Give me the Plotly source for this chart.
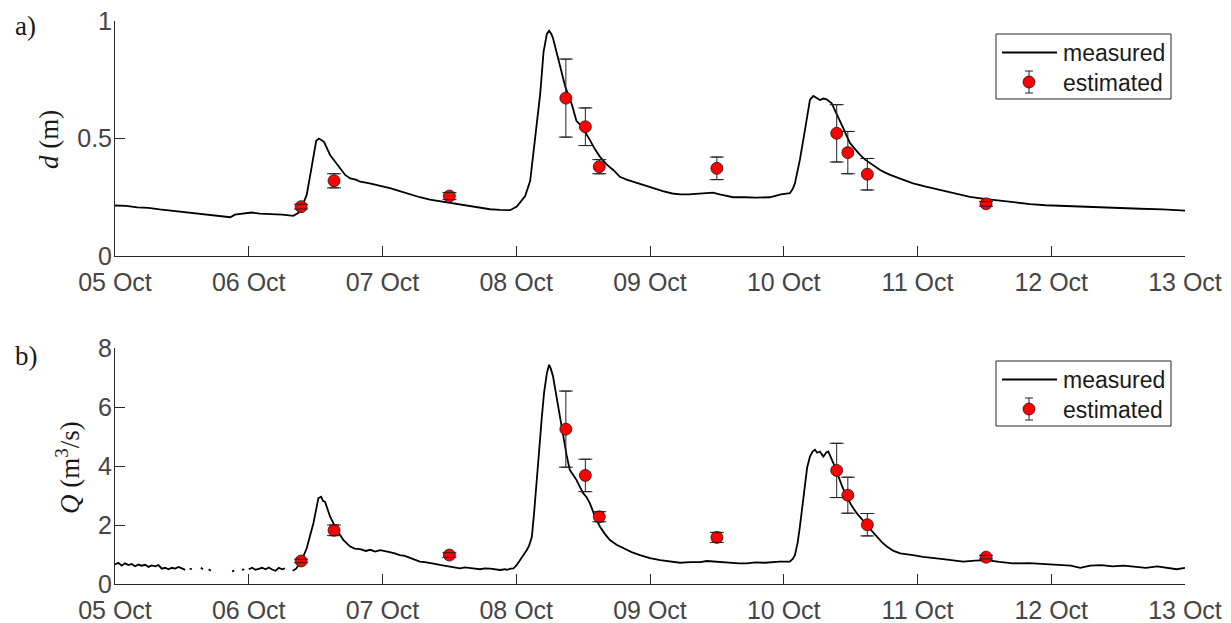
import pandas as pd
import plotly.graph_objects as go

# ---------------------------------------------------------------------------
# Data: hours after 05 Oct 00:00
# ---------------------------------------------------------------------------
START = pd.Timestamp("2023-10-05")

# measured water depth d (m)
d_hours = [0, 2, 4, 6, 8, 10, 12, 14, 16, 18, 19.5, 20.7, 21.5, 23, 24.5, 26, 28, 30, 32,
           33, 33.8, 34.4, 35.3, 36.1, 36.6, 37.1, 37.5, 38.6, 39.5, 40.4, 41.3, 42.2, 43.2,
           44.0, 45.5, 47.6, 49.5, 51.1, 53, 54.7, 56.5, 58.3, 60, 61.9, 63.7, 65.5, 67.3,
           69.1, 70.9, 72.1, 73.0, 73.6, 74.5, 75.1, 75.7, 76.3, 76.9, 77.5, 77.9, 78.3, 78.6,
           79.3, 79.9, 80.8, 82.0, 82.8, 83.4, 84.3, 85.2, 86.1, 87.0, 88.2, 89.4, 90.6, 91.8,
           93.0, 94.2, 95.5, 97, 98.3, 100, 101.4, 103, 105, 106.5, 107.3, 108.5, 110, 110.9,
           113, 115, 117.5, 119.5, 121.1, 121.6, 122.0, 122.4, 122.9, 123.8, 124.7, 125.3,
           126.0, 126.5, 127.1, 127.7, 128.6, 129.5, 130.1, 130.7, 131.3, 131.9, 132.8, 133.7,
           134.6, 135.5, 136.4, 137.3, 138.2, 139.1, 141, 143.2, 145.5, 148, 150.5, 153.4,
           156, 158.8, 161.5, 164.2, 167, 170.1, 172.6, 176, 180, 184, 188, 192]
d_measured = [0.215, 0.213, 0.207, 0.205, 0.198, 0.193, 0.190, 0.182, 0.178, 0.172, 0.170,
              0.165, 0.176, 0.182, 0.185, 0.180, 0.179, 0.176, 0.171,
              0.185, 0.225, 0.26, 0.38, 0.49, 0.50, 0.493, 0.486, 0.43, 0.40, 0.37, 0.345,
              0.33, 0.325, 0.316, 0.31, 0.298, 0.288, 0.276, 0.262, 0.250, 0.240, 0.233,
              0.226, 0.218, 0.211, 0.204, 0.199, 0.196, 0.195, 0.210, 0.235, 0.255, 0.32,
              0.45, 0.557, 0.69, 0.869, 0.945, 0.958, 0.945, 0.926, 0.86, 0.813, 0.72,
              0.643, 0.575, 0.560, 0.53, 0.494, 0.455, 0.423, 0.39, 0.366, 0.337, 0.325,
              0.316, 0.305, 0.295, 0.285, 0.276, 0.266, 0.262, 0.262, 0.266, 0.268, 0.27,
              0.262, 0.255, 0.25, 0.25, 0.248, 0.25, 0.262, 0.267, 0.285, 0.309, 0.35,
              0.41, 0.536, 0.664, 0.681, 0.672, 0.664, 0.670, 0.667, 0.650, 0.607, 0.575,
              0.543, 0.51, 0.48, 0.455, 0.43, 0.41, 0.394, 0.38, 0.366, 0.355, 0.345,
              0.328, 0.309, 0.295, 0.281, 0.268, 0.252, 0.243, 0.235, 0.228, 0.221, 0.216,
              0.213, 0.210, 0.206, 0.203, 0.201, 0.198, 0.193]

# measured discharge Q (m3/s); None marks missing records
q_hours = [0, 0.6, 1.2, 1.8, 2.4, 3.0, 3.6, 4.2, 4.8, 5.4, 6.0, 6.6, 7.2, 7.8, 8.4, 9.0,
           9.6, 10.2, 10.8, 11.4, 12.0, 12.6, 13.0, 13.4, 13.8, 14.2, 15.4, 15.8, 16.2,
           16.8, 17.2, 17.6, 21.0, 21.4, 21.8, 22.8, 23.2, 23.6, 24.0, 24.6, 25.2, 25.8,
           26.4, 27.0, 27.6, 28.2, 28.8, 29.4, 30.0, 30.5, 30.9, 31.9, 32.5, 33.4, 34.4,
           35.6, 36.5, 37.0, 37.3, 37.7, 38.6, 39.8, 41.0, 42.2, 43.0, 44.0, 45.0, 45.8,
           46.7, 47.6, 48.5, 49.3, 50.2, 51.1, 52.0, 52.9, 53.8, 54.7, 55.6, 56.5, 57.4,
           58.3, 59.2, 60.1, 61.0, 61.9, 62.8, 63.7, 64.6, 65.5, 66.4, 67.3, 68.2, 69.1,
           70.0, 70.3, 71.0, 71.5, 72.0, 72.7, 73.3, 73.9, 74.3, 74.8, 75.2, 75.7, 76.1,
           76.6, 77.0, 77.5, 77.9, 78.2, 78.6, 79.0, 79.5, 80.0, 80.4, 81.0, 81.6, 82.2,
           82.8, 83.4, 84.0, 84.6, 85.2, 86.1, 87.0, 87.9, 88.8, 90.0, 91.2, 92.7, 94.2,
           96.0, 97.8, 99.6, 101.4, 103.2, 105.0, 106.2, 107.3, 108.9, 110.4, 112.0, 113.3,
           115.0, 116.6, 118.0, 119.3, 121.1, 121.6, 122.0, 122.5, 122.9, 123.4, 123.8,
           124.2, 124.7, 125.2, 125.6, 126.0, 126.5, 127.1, 127.6, 128.0, 128.9, 129.8,
           130.5, 131.3, 132.2, 133.1, 134.0, 134.9, 135.8, 136.7, 137.6, 138.5, 139.7,
           140.9, 142.0, 143.2, 145.0, 146.8, 148.6, 150.4, 152.2, 154.3, 156.4, 158.7,
           161.1, 164.0, 167.2, 170.1, 171.5, 173.2, 175.0, 177.0, 179.0, 181.0, 183.0,
           185.0, 187.0, 189.0, 190.5, 192.0]
q_measured = [0.66, 0.72, 0.62, 0.70, 0.64, 0.68, 0.60, 0.66, 0.62, 0.65, 0.58, 0.63, 0.60,
              0.64, 0.52, 0.55, 0.50, 0.55, 0.52, 0.58, 0.53, 0.48, None, 0.52, 0.50, None,
              0.55, 0.50, None, 0.50, 0.45, None, 0.43, 0.45, None, 0.48, 0.50, None, 0.50,
              0.55, 0.48, 0.52, 0.55, 0.50, 0.56, 0.49, 0.45, 0.55, 0.50, 0.53, None, 0.45,
              0.52, 0.76, 1.21, 2.06, 2.91, 2.96, 2.82, 2.78, 2.28, 1.83, 1.49, 1.27, 1.20,
              1.18, 1.12, 1.16, 1.10, 1.15, 1.10, 1.08, 1.04, 0.98, 0.95, 0.88, 0.82, 0.76,
              0.74, 0.72, 0.68, 0.645, 0.62, 0.60, 0.58, 0.53, 0.56, 0.55, 0.52, 0.50, 0.53,
              0.52, 0.49, 0.475, 0.50, 0.48, 0.52, 0.53, 0.62, 0.81, 0.98, 1.15, 1.30, 1.60,
              2.40, 3.42, 4.50, 5.68, 6.50, 7.15, 7.43, 7.30, 7.04, 6.60, 6.02, 5.55, 5.12,
              4.40, 3.87, 3.70, 3.53, 3.30, 3.08, 2.95, 2.74, 2.30, 1.95, 1.70, 1.49, 1.33,
              1.21, 1.08, 0.98, 0.88, 0.81, 0.76, 0.72, 0.74, 0.74, 0.78, 0.76, 0.74, 0.72,
              0.70, 0.70, 0.73, 0.72, 0.74, 0.76, 0.76, 0.85, 0.98, 1.40, 1.95, 2.80, 3.42,
              3.95, 4.32, 4.50, 4.55, 4.45, 4.49, 4.32, 4.45, 4.49, 4.10, 3.64, 3.30, 2.96,
              2.65, 2.40, 2.18, 2.00, 1.80, 1.60, 1.42, 1.27, 1.12, 1.04, 1.00, 0.98, 0.92,
              0.87, 0.84, 0.80, 0.76, 0.79, 0.81, 0.75, 0.70, 0.71, 0.68, 0.645, 0.62, 0.55,
              0.62, 0.64, 0.60, 0.62, 0.58, 0.55, 0.60, 0.55, 0.50, 0.55]

# estimated values with uncertainty (same sampling times for both quantities)
est_hours = [33.4, 39.3, 60.0, 80.9, 84.4, 86.9, 108.0, 129.5, 131.5, 135.0, 156.3]
d_estimated = [0.21, 0.32, 0.255, 0.672, 0.55, 0.38, 0.373, 0.522, 0.44, 0.348, 0.222]
d_error = [0.01, 0.03, 0.015, 0.166, 0.08, 0.03, 0.048, 0.122, 0.09, 0.067, 0.01]
q_estimated = [0.78, 1.82, 0.98, 5.25, 3.68, 2.28, 1.58, 3.85, 3.01, 2.01, 0.91]
q_error = [0.06, 0.18, 0.08, 1.29, 0.55, 0.17, 0.17, 0.92, 0.61, 0.38, 0.06]

day_ticks = list(range(9))
d_ticks = [0, 0.5, 1]
d_tick_text = ["0", "0.5", "1"]
q_ticks = [0, 2, 4, 6, 8]

# ---------------------------------------------------------------------------
W, H = 1231, 623
ML, MR, MT, MB = 115, 46, 21, 39
PW, PH = W - ML - MR, H - MT - MB

def to_time(hours):
    return [START + pd.Timedelta(hours=h) for h in hours]

def px(x):
    return (x - ML) / PW

def py(y):
    return (H - MB - y) / PH

AX = "#262626"
TICK_FONT = dict(family="Liberation Sans, Arial, sans-serif", size=25, color="#454545")
SERIF = "Liberation Serif, Times New Roman, serif"

fig = go.Figure()

panels = [
    ("x", "y", d_hours, d_measured, d_estimated, d_error),
    ("x2", "y2", q_hours, q_measured, q_estimated, q_error),
]
est_t = to_time(est_hours)
for xa, ya, hrs, meas, est, err in panels:
    fig.add_trace(go.Scatter(
        x=to_time(hrs), y=meas, mode="lines", xaxis=xa, yaxis=ya,
        line=dict(color="black", width=1.8), connectgaps=False, showlegend=False,
    ))
    # error bars beneath the markers
    fig.add_trace(go.Scatter(
        x=est_t, y=est, mode="markers", xaxis=xa, yaxis=ya,
        marker=dict(size=1, color="rgba(0,0,0,0)"),
        error_y=dict(type="data", array=err, color="#222222", thickness=1, width=5),
        showlegend=False,
    ))
    fig.add_trace(go.Scatter(
        x=est_t, y=est, mode="markers", xaxis=xa, yaxis=ya,
        marker=dict(size=12, color="#ff0000", line=dict(color="#1a1a1a", width=0.8)),
        showlegend=False,
    ))
    # bar caps drawn over the markers
    fig.add_trace(go.Scatter(
        x=est_t + est_t,
        y=[v + e for v, e in zip(est, err)] + [v - e for v, e in zip(est, err)],
        mode="markers", xaxis=xa, yaxis=ya,
        marker=dict(symbol="line-ew", size=10, line=dict(color="#222222", width=1)),
        showlegend=False,
    ))

x_common = dict(
    type="date",
    range=[START, START + pd.Timedelta(days=8)],
    tickvals=[START + pd.Timedelta(days=d) for d in day_ticks],
    tickformat="%d %b",
    ticks="inside", ticklen=10, tickwidth=1, tickcolor=AX,
    showline=True, linecolor=AX, linewidth=1,
    showgrid=False, zeroline=False, tickfont=TICK_FONT,
    ticklabelstandoff=4, automargin=False,
    domain=[0, 1],
)
y_common = dict(
    ticks="inside", ticklen=10, tickwidth=1, tickcolor=AX,
    showline=True, linecolor=AX, linewidth=1,
    showgrid=False, zeroline=False, tickfont=TICK_FONT,
    ticklabelstandoff=-3, automargin=False,
)

top_lo = py(256)
bot_hi = py(348)

fig.update_layout(
    width=W, height=H,
    margin=dict(l=ML, r=MR, t=MT, b=MB),
    paper_bgcolor="white", plot_bgcolor="white",
    showlegend=False,
    xaxis=dict(anchor="y", **x_common),
    yaxis=dict(anchor="x", domain=[top_lo, 1], range=[0, 1], tickvals=d_ticks,
               ticktext=d_tick_text, **y_common),
    xaxis2=dict(anchor="y2", **x_common),
    yaxis2=dict(anchor="x2", domain=[0, bot_hi], range=[0, 8], tickvals=q_ticks,
                **y_common),
)

annotations = [
    dict(text="a)", x=px(25), y=py(26)),
    dict(text="b)", x=px(26), y=py(356)),
    dict(text="<i>d</i> (m)", x=px(49), y=py(140), textangle=-90),
    dict(text="<i>Q</i> (m<sup>3</sup>/s)", x=px(68), y=py(468), textangle=-90),
]
for a in annotations:
    fig.add_annotation(xref="paper", yref="paper", showarrow=False,
                       xanchor="center", yanchor="middle",
                       font=dict(family=SERIF, size=27, color="#1a1a1a"), **a)

# legends drawn as boxes in each panel
for dy in (0, 327):
    fig.add_shape(type="rect", xref="paper", yref="paper",
                  x0=px(996), x1=px(1171), y0=py(34 + dy), y1=py(99 + dy),
                  line=dict(color="#262626", width=1), fillcolor="white")
    fig.add_shape(type="line", xref="paper", yref="paper",
                  x0=px(1002), x1=px(1057), y0=py(52.5 + dy), y1=py(52.5 + dy),
                  line=dict(color="black", width=1.8))
    fig.add_shape(type="line", xref="paper", yref="paper",
                  x0=px(1029), x1=px(1029), y0=py(71 + dy), y1=py(93 + dy),
                  line=dict(color="#222222", width=1))
    for cy in (71, 93):
        fig.add_shape(type="line", xref="paper", yref="paper",
                      x0=px(1025), x1=px(1033), y0=py(cy + dy), y1=py(cy + dy),
                      line=dict(color="#222222", width=1))
    fig.add_shape(type="circle", xref="paper", yref="paper",
                  x0=px(1023), x1=px(1035), y0=py(76 + dy), y1=py(88 + dy),
                  line=dict(color="#1a1a1a", width=0.8), fillcolor="#ff0000")
    for label, cy in (("measured", 53), ("estimated", 83)):
        fig.add_annotation(xref="paper", yref="paper", showarrow=False,
                           x=px(1061), y=py(cy + dy), xanchor="left", yanchor="middle",
                           text=label,
                           font=dict(family="Liberation Sans, Arial, sans-serif",
                                     size=23, color="#1a1a1a"))

fig.write_html("out.html")
